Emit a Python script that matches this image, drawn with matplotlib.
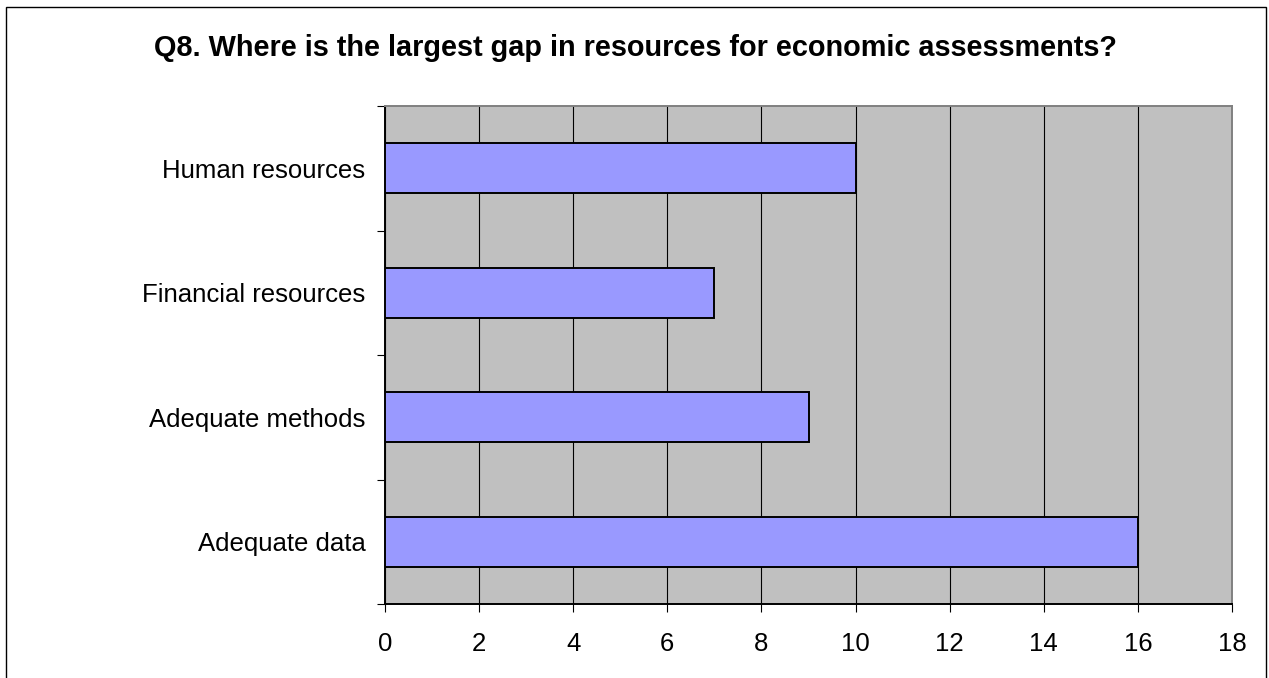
import matplotlib
matplotlib.use("Agg")
import matplotlib.pyplot as plt
from matplotlib.patches import Rectangle
import numpy as np

categories = ["Human resources", "Financial resources", "Adequate methods", "Adequate data"]
values = [10, 7, 9, 16]
xticks = list(range(0, 19, 2))
title = "Q8. Where is the largest gap in resources for economic assessments?"

plt.rcParams['font.family'] = ['Liberation Sans', 'DejaVu Sans']

W, H = 1269, 678
fig = plt.figure(figsize=(W / 100, H / 100), dpi=100)
fig.patch.set_facecolor("white")

# outer border
fig.add_artist(Rectangle((6 / W, -0.05), (1266 - 6) / W, 1.05 - 7 / H,
                         transform=fig.transFigure, fill=False,
                         edgecolor="black", linewidth=1.0, clip_on=False))

ax = fig.add_axes([385 / W, 1 - 604 / H, (1232 - 385) / W, (604 - 106) / H])
ax.set_facecolor("#C0C0C0")

y = np.arange(len(categories))
ax.barh(y, values, height=0.4, color="#9999FF", edgecolor="black", linewidth=1.4, zorder=3)

ax.set_xlim(0, 18)
ax.set_ylim(len(categories) - 0.5, -0.5)
ax.set_xticks(xticks)
ax.set_xticklabels([str(t) for t in xticks], fontsize=18.5)
ax.xaxis.grid(True, color="black", linewidth=0.8, zorder=1)
ax.set_axisbelow(True)

ax.set_yticks(y)
ax.set_yticklabels(categories, fontsize=18.5)
ax.set_yticks(np.arange(-0.5, len(categories), 1.0), minor=True)
ax.tick_params(axis="y", which="major", length=0, pad=14)
ax.tick_params(axis="y", which="minor", length=6, width=0.8, direction="out")
ax.tick_params(axis="x", which="major", length=6, width=0.8, direction="out", pad=14)

for s in ["top", "right"]:
    ax.spines[s].set_color("#808080")
    ax.spines[s].set_linewidth(1.4)
for s in ["left", "bottom"]:
    ax.spines[s].set_color("black")
    ax.spines[s].set_linewidth(1.4)

fig.text(635.5 / W, 1 - 48 / H, title, ha="center", va="center",
         fontsize=20.8, fontweight="bold")

fig.savefig("out.png", dpi=100)
